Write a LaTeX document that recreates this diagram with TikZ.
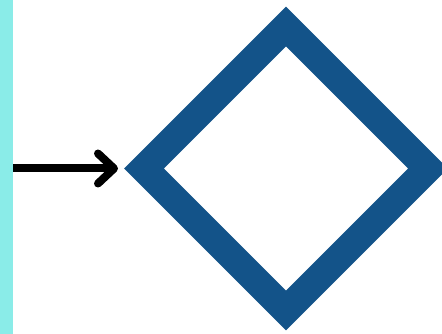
\documentclass[tikz,border=0pt]{standalone}
\usetikzlibrary{shapes.geometric,arrows.meta}
\definecolor{barcyan}{RGB}{138,236,232}
\definecolor{diablue}{RGB}{19,83,137}
\begin{document}
\begin{tikzpicture}[x=1pt,y=1pt,
  gate/.style={shape=diamond,draw=diablue,line width=28pt,inner sep=0pt,outer sep=0pt,
    minimum width=284pt,minimum height=284pt,aspect=1},
  flow/.style={draw=black,line width=8pt,line cap=butt,
    -{Straight Barb[length=16pt,width=30pt,round]}}]
\useasboundingbox (0,0) rectangle (442,334);
\clip (0,0) rectangle (442,334);
\node[gate] (d) at (286,165.5) {};
\coordinate (s) at (10,165.5);
\coordinate (e) at ([xshift=-26pt]d.west);
\draw[flow] (s) -- (e);
\fill[barcyan] (0,0) rectangle (13,334);
\end{tikzpicture}
\end{document}
